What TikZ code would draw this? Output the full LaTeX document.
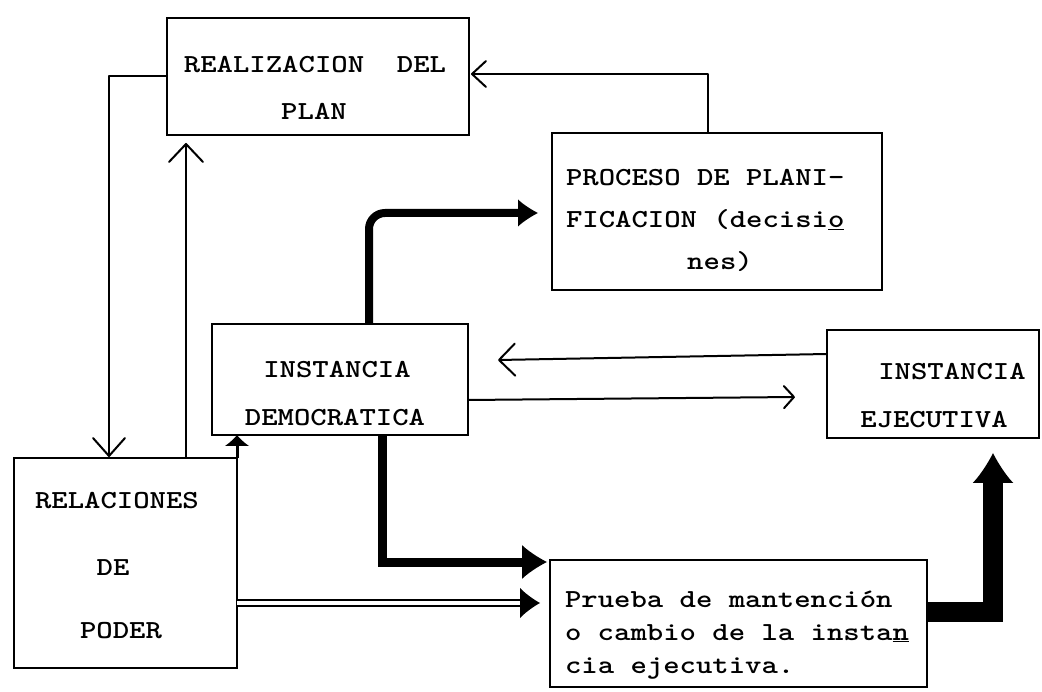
\documentclass[tikz,border=0pt]{standalone}
\usepackage{fontspec}
\usepackage{graphicx}
\usetikzlibrary{arrows.meta,calc}
\newcommand{\twfont}{\ttfamily\bfseries\fontsize{26}{30}\selectfont}
\newcommand{\tws}[1]{\scalebox{1.2}[1]{#1}}
\begin{document}
\begin{tikzpicture}[x=1pt,y=-1pt,
  box/.style={draw,line width=2.5pt,inner sep=0pt,outer sep=0pt},
  txt/.style={font=\twfont,inner sep=0pt,outer sep=0pt},
  thinline/.style={line width=2pt,line cap=round,line join=round},
  barb/.style 2 args={thinline,-{Straight Barb[length=#1,width=#2,round]}},
  heavy/.style 2 args={line width=#1,-{Latex[length=#2,width=1.35*#2,line width=0pt]}}
]
\fill[white] (0,0) rectangle (1042,692);
\path[use as bounding box] (0,0) rectangle (1042,692);

% boxes
\node[box,minimum width=302pt,minimum height=117pt] (real) at (318,76.5) {};
\node[box,minimum width=330pt,minimum height=157pt] (proc) at (717,211.5) {};
\node[box,minimum width=256pt,minimum height=111pt] (dem) at (340,379.5) {};
\node[box,minimum width=212pt,minimum height=108pt] (ejec) at (933,384) {};
\node[box,minimum width=223pt,minimum height=210pt] (rel) at (125.5,563) {};
\node[box,minimum width=377pt,minimum height=127pt] (prue) at (738.5,623.5) {};

% texts
\node[txt,anchor=base] (t1) at (315,73) {\tws{REALIZACION\ \ DEL}};
\node[txt,anchor=base] (t2) at (314,120) {\tws{PLAN}};
\node[txt,anchor=base west] (t3) at (566,186) {\tws{PROCESO DE PLANI-}};
\node[txt,anchor=base west] (t4) at (566,228) {\tws{FICACION (decisi\underline{o}}};
\node[txt,anchor=base] (t5) at (720,270) {\tws{nes)}};
\node[txt,anchor=base] (t6) at (337,378) {\tws{INSTANCIA}};
\node[txt,anchor=base] (t7) at (335,426) {\tws{DEMOCRATICA}};
\node[txt,anchor=base] (t8) at (952,380) {\tws{INSTANCIA}};
\node[txt,anchor=base] (t9) at (934,428) {\tws{EJECUTIVA}};
\node[txt,anchor=base west] (t10) at (35,508) {\tws{RELACIONES}};
\node[txt,anchor=base] (t11) at (113,575) {\tws{DE}};
\node[txt,anchor=base] (t12) at (121,638) {\tws{PODER}};
\node[txt,anchor=base west] (t13) at (565,607) {\tws{Prueba de mantención}};
\node[txt,anchor=base west] (t14) at (565,640) {\tws{o cambio de la insta\underline{n}}};
\node[txt,anchor=base west] (t15) at (565,673) {\tws{cia ejecutiva.}};

% thin connectors
\draw[barb={18pt}{32pt}] (real.west) -| ($(rel.north west)+(95,-1)$);
\draw[barb={18pt}{34pt}] ($(rel.north west)+(172,0)$) -- ($(real.south west)+(19,8)$);
\draw[barb={14pt}{26pt}] ($(proc.north west)+(156,0)$) |- ($(real.north east)+(2,56)$);
\draw[barb={16pt}{32pt}] ($(ejec.north west)+(0,24)$) -- ($(dem.north east)+(30,36)$);
\draw[barb={10pt}{22pt}] ($(dem.north east)+(0,76)$) -- ($(ejec.north west)+(-32,67)$);

% heavy connectors
\draw[heavy={8pt}{20pt},rounded corners=16pt] ($(dem.north west)+(157,0)$) |- ($(proc.west)+(-14,1.5)$);
\draw[heavy={9pt}{25pt}] ($(dem.south west)+(170,0)$) |- ($(prue.north west)+(-3,2)$);
\draw[line width=2pt,double=white,double distance=4pt,-{Latex[length=20pt,width=30pt,line width=0pt]}]
  ($(rel.north east)+(0,145)$) -- ($(prue.north west)+(-10,43)$);
\draw[heavy={20pt}{30pt}] ($(prue.north east)+(0,52)$) -| ($(ejec.south west)+(166,15)$);
\draw[line width=3pt,-{Latex[length=11pt,width=24pt,line width=0pt]}] (rel.north east) -- (rel.north east |- dem.south);
\end{tikzpicture}
\end{document}
